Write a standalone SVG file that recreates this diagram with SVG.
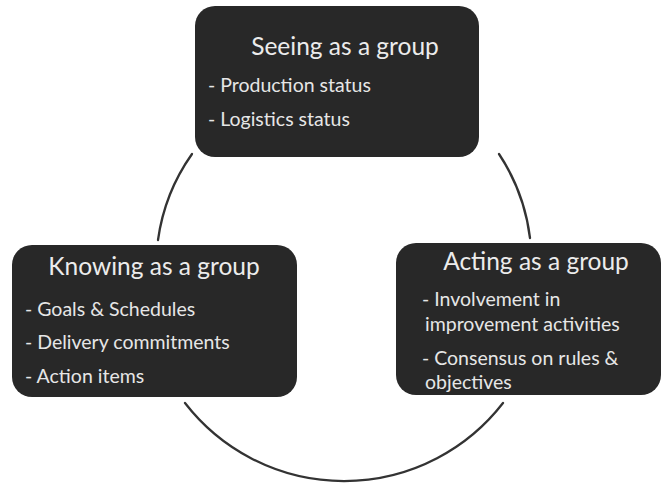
<svg xmlns="http://www.w3.org/2000/svg" width="663" height="483" viewBox="0 0 663 483">
  <style>
    .box { fill: #282828; }
    .title { font-family: Lato, "Liberation Sans", sans-serif; font-size: 24.5px; fill: #ececec; text-anchor: middle; }
    .item { font-family: Lato, "Liberation Sans", sans-serif; font-size: 19.5px; fill: #e6e6e6; }
    .arc { fill: none; stroke: #333333; stroke-width: 2.3; stroke-linecap: round; }
  </style>
  <rect width="663" height="483" fill="#ffffff"/>

  <!-- cycle arcs between the three boxes -->
  <g id="connectors">
    <path class="arc" d="M192,154 A195,195 0 0 0 158,240"/>
    <path class="arc" d="M499,154 A195,195 0 0 1 530,238"/>
    <path class="arc" d="M185,403 A201,201 0 0 0 503,403"/>
  </g>

  <g id="seeing">
    <rect class="box" x="195" y="6" width="284" height="151" rx="20" ry="20"/>
    <text class="title" x="345" y="55">Seeing as a group</text>
    <text class="item" x="208" y="92">- Production status</text>
    <text class="item" x="208" y="126">- Logistics status</text>
  </g>

  <g id="knowing">
    <rect class="box" x="12" y="245" width="285" height="152" rx="20" ry="20"/>
    <text class="title" x="154" y="275">Knowing as a group</text>
    <text class="item" x="25" y="316">- Goals &amp; Schedules</text>
    <text class="item" x="25" y="349">- Delivery commitments</text>
    <text class="item" x="25" y="383">- Action items</text>
  </g>

  <g id="acting">
    <rect class="box" x="396" y="243" width="265" height="152" rx="20" ry="20"/>
    <text class="title" x="536" y="270">Acting as a group</text>
    <text class="item" x="422" y="306">- Involvement in</text>
    <text class="item" x="425" y="331">improvement activities</text>
    <text class="item" x="422" y="365">- Consensus on rules &amp;</text>
    <text class="item" x="425" y="389">objectives</text>
  </g>
</svg>
